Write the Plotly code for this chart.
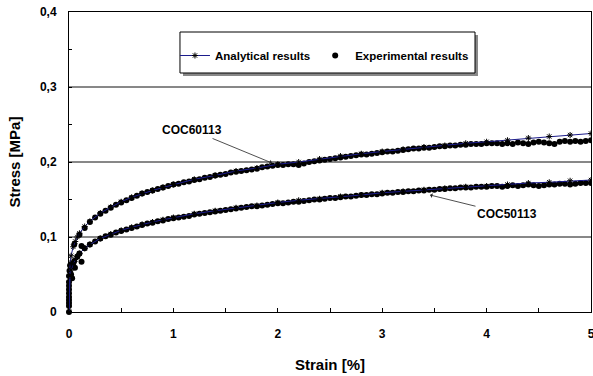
import plotly.graph_objects as go

# ---------------- data ----------------
ana_strain = [0, 0.01, 0.02, 0.04, 0.06, 0.08, 0.1, 0.15, 0.2, 0.3, 0.4, 0.5, 0.6, 0.7, 0.8, 0.9, 1.0,
              1.2, 1.4, 1.6, 1.8, 2.0, 2.2, 2.4, 2.6, 2.8, 3.0, 3.2, 3.4, 3.6, 3.8, 4.0, 4.2, 4.4, 4.6, 4.8, 5.0]
ana_coc60113 = [0, 0.065, 0.075, 0.087, 0.094, 0.100, 0.105, 0.114, 0.121, 0.132, 0.140, 0.147, 0.153, 0.158,
                0.162, 0.166, 0.170, 0.177, 0.182, 0.188, 0.192, 0.197, 0.200, 0.204, 0.208, 0.211, 0.214,
                0.217, 0.220, 0.222, 0.225, 0.227, 0.229, 0.232, 0.234, 0.236, 0.238]
ana_coc50113 = [0, 0.048, 0.056, 0.064, 0.070, 0.074, 0.078, 0.085, 0.090, 0.098, 0.104, 0.109, 0.113, 0.117,
                0.120, 0.123, 0.126, 0.131, 0.135, 0.139, 0.142, 0.146, 0.149, 0.151, 0.154, 0.156, 0.159,
                0.161, 0.163, 0.165, 0.167, 0.168, 0.170, 0.172, 0.173, 0.175, 0.176]

exp_strain = [0.05, 0.10, 0.15, 0.20, 0.25, 0.30, 0.35, 0.40, 0.45, 0.50,
              0.55, 0.60, 0.65, 0.70, 0.75, 0.80, 0.85, 0.90, 0.95, 1.00,
              1.05, 1.10, 1.15, 1.20, 1.25, 1.30, 1.35, 1.40, 1.45, 1.50,
              1.55, 1.60, 1.65, 1.70, 1.75, 1.80, 1.85, 1.90, 1.95, 2.00,
              2.05, 2.10, 2.15, 2.20, 2.25, 2.30, 2.35, 2.40, 2.45, 2.50,
              2.55, 2.60, 2.65, 2.70, 2.75, 2.80, 2.85, 2.90, 2.95, 3.00,
              3.05, 3.10, 3.15, 3.20, 3.25, 3.30, 3.35, 3.40, 3.45, 3.50,
              3.55, 3.60, 3.65, 3.70, 3.75, 3.80, 3.85, 3.90, 3.95, 4.00,
              4.05, 4.10, 4.15, 4.20, 4.25, 4.30, 4.35, 4.40, 4.45, 4.50,
              4.55, 4.60, 4.65, 4.70, 4.75, 4.80, 4.85, 4.90, 4.95, 5.00]
exp_coc60113 = [0.090, 0.103, 0.112, 0.120, 0.126, 0.131, 0.135, 0.139, 0.143, 0.146,
                0.149, 0.152, 0.155, 0.158, 0.160, 0.162, 0.164, 0.166, 0.168, 0.170,
                0.171, 0.173, 0.174, 0.176, 0.177, 0.179, 0.180, 0.182, 0.183, 0.184,
                0.186, 0.187, 0.188, 0.189, 0.190, 0.191, 0.193, 0.194, 0.195, 0.196,
                0.196, 0.197, 0.197, 0.196, 0.198, 0.200, 0.201, 0.202, 0.203, 0.204,
                0.205, 0.206, 0.207, 0.208, 0.209, 0.210, 0.210, 0.211, 0.212, 0.213,
                0.214, 0.214, 0.215, 0.216, 0.217, 0.218, 0.218, 0.219, 0.219, 0.220,
                0.221, 0.221, 0.222, 0.222, 0.223, 0.223, 0.224, 0.224, 0.224, 0.225,
                0.225, 0.225, 0.224, 0.225, 0.224, 0.226, 0.225, 0.224, 0.226, 0.227,
                0.226, 0.225, 0.224, 0.227, 0.228, 0.227, 0.228, 0.227, 0.228, 0.229]
exp_coc50113 = [0.068, 0.078, 0.085, 0.090, 0.094, 0.098, 0.101, 0.103, 0.106, 0.108,
                0.110, 0.112, 0.114, 0.116, 0.118, 0.119, 0.121, 0.122, 0.124, 0.125,
                0.126, 0.127, 0.128, 0.130, 0.131, 0.132, 0.133, 0.134, 0.135, 0.136,
                0.137, 0.138, 0.139, 0.140, 0.141, 0.141, 0.142, 0.143, 0.144, 0.145,
                0.145, 0.146, 0.147, 0.147, 0.148, 0.149, 0.150, 0.150, 0.151, 0.152,
                0.152, 0.153, 0.154, 0.154, 0.155, 0.156, 0.156, 0.157, 0.157, 0.158,
                0.159, 0.159, 0.160, 0.160, 0.161, 0.161, 0.162, 0.162, 0.163, 0.163,
                0.164, 0.164, 0.165, 0.165, 0.166, 0.166, 0.166, 0.167, 0.167, 0.167,
                0.168, 0.168, 0.167, 0.168, 0.169, 0.168, 0.169, 0.170, 0.169, 0.168,
                0.169, 0.170, 0.170, 0.171, 0.171, 0.170, 0.171, 0.172, 0.172, 0.172]

# early scattered experimental points near the origin
exp_early_strain = [0, 0, 0, 0, 0, 0, 0, 0, 0, 0, 0.005, 0.01, 0.03, 0.04, 0.057, 0.08, 0.12, 0.12, 0.02]
exp_early_stress = [0, 0.008, 0.012, 0.016, 0.02, 0.025, 0.03, 0.035, 0.04, 0.048, 0.055, 0.062,
                    0.045, 0.065, 0.059, 0.074, 0.067, 0.088, 0.05]

x_tickvals = [0, 0.5, 1, 1.5, 2, 2.5, 3, 3.5, 4, 4.5, 5]
x_ticktext = ["0", "", "1", "", "2", "", "3", "", "4", "", "5"]
y_tickvals = [0, 0.05, 0.1, 0.15, 0.2, 0.25, 0.3, 0.35, 0.4]
y_ticktext = ["0", "", "0,1", "", "0,2", "", "0,3", "", "0,4"]

FONT = "Liberation Sans, Arial, sans-serif"

fig = go.Figure()

exp_marker = dict(color="black", size=6, symbol="circle")
fig.add_trace(go.Scatter(x=exp_early_strain, y=exp_early_stress, mode="markers", marker=exp_marker,
                         legendgroup="exp", showlegend=False, cliponaxis=False))
fig.add_trace(go.Scatter(x=exp_strain, y=exp_coc60113, mode="markers", marker=exp_marker,
                         legendgroup="exp", showlegend=False))
fig.add_trace(go.Scatter(x=exp_strain, y=exp_coc50113, mode="markers", marker=exp_marker,
                         legendgroup="exp", showlegend=False))

ana_line = dict(color="#1c1c8c", width=1)
ana_marker = dict(symbol="asterisk-open", size=5, color="black", line=dict(color="#222", width=1))
fig.add_trace(go.Scatter(x=ana_strain, y=ana_coc60113, mode="lines+markers", line=ana_line,
                         marker=ana_marker, name="Analytical results", legendgroup="ana"))
fig.add_trace(go.Scatter(x=ana_strain, y=ana_coc50113, mode="lines+markers", line=ana_line,
                         marker=ana_marker, legendgroup="ana", showlegend=False))
# legend entry for experimental
fig.add_trace(go.Scatter(x=[None], y=[None], mode="markers", marker=exp_marker,
                         name="Experimental results", legendgroup="exp"))

# legend box with shadow
fig.add_shape(type="rect", xref="paper", yref="paper", x0=0.2184, x1=0.7835, y0=0.7867, y1=0.9233,
              fillcolor="#888", line=dict(width=0), layer="above")
fig.add_shape(type="rect", xref="paper", yref="paper", x0=0.2126, x1=0.7778, y0=0.7967, y1=0.9333,
              fillcolor="white", line=dict(color="black", width=1), layer="above")

fig.add_annotation(x=1.944, y=0.1987, ax=-80, ay=-33, text="COC60113", showarrow=True,
                   arrowhead=1, arrowsize=1, arrowwidth=0.8, arrowcolor="#222",
                   font=dict(family=FONT, size=12, color="black", weight="bold"))
fig.add_annotation(x=3.458, y=0.156, ax=77, ay=19, text="COC50113", showarrow=True,
                   arrowhead=1, arrowsize=1, arrowwidth=0.8, arrowcolor="#222",
                   font=dict(family=FONT, size=12, color="black", weight="bold"))

fig.update_layout(
    width=593, height=376,
    margin=dict(l=69, r=2, t=12, b=64),
    paper_bgcolor="white", plot_bgcolor="white",
    font=dict(family=FONT, size=11, color="black"),
    showlegend=True,
    legend=dict(orientation="h", x=0.203, xanchor="left", y=0.855, yanchor="middle",
                bgcolor="rgba(0,0,0,0)", borderwidth=0,
                font=dict(family=FONT, size=11.5, color="black", weight="bold")),
    xaxis=dict(range=[0, 5], tickvals=x_tickvals, ticktext=x_ticktext, ticks="inside", ticklen=4,
               tickcolor="black", showline=True, linecolor="black", linewidth=1, mirror=True,
               showgrid=False, zeroline=False, ticklabeloverflow="allow", automargin=False,
               tickfont=dict(family=FONT, size=12, color="black", weight="bold"),
               ticklabelstandoff=11,
               title=dict(text="Strain [%]", standoff=19,
                          font=dict(family=FONT, size=15, color="black", weight="bold"))),
    yaxis=dict(range=[0, 0.4], tickvals=y_tickvals, ticktext=y_ticktext, ticks="inside", ticklen=3,
               tickcolor="black", showline=True, linecolor="black", linewidth=1, mirror=True,
               showgrid=False, zeroline=False, automargin=False,
               tickfont=dict(family=FONT, size=12, color="black", weight="bold"),
               ticklabelstandoff=9,
               title=dict(text="Stress [MPa]", standoff=15,
                          font=dict(family=FONT, size=15, color="black", weight="bold"))),
)

# horizontal grid lines at 0.1, 0.2, 0.3 (drawn under data)
for gy in [0.1, 0.2, 0.3]:
    fig.add_shape(type="line", xref="paper", yref="y", x0=0, x1=1, y0=gy, y1=gy,
                  line=dict(color="#111", width=1), layer="below")

fig.write_html("out.html")
